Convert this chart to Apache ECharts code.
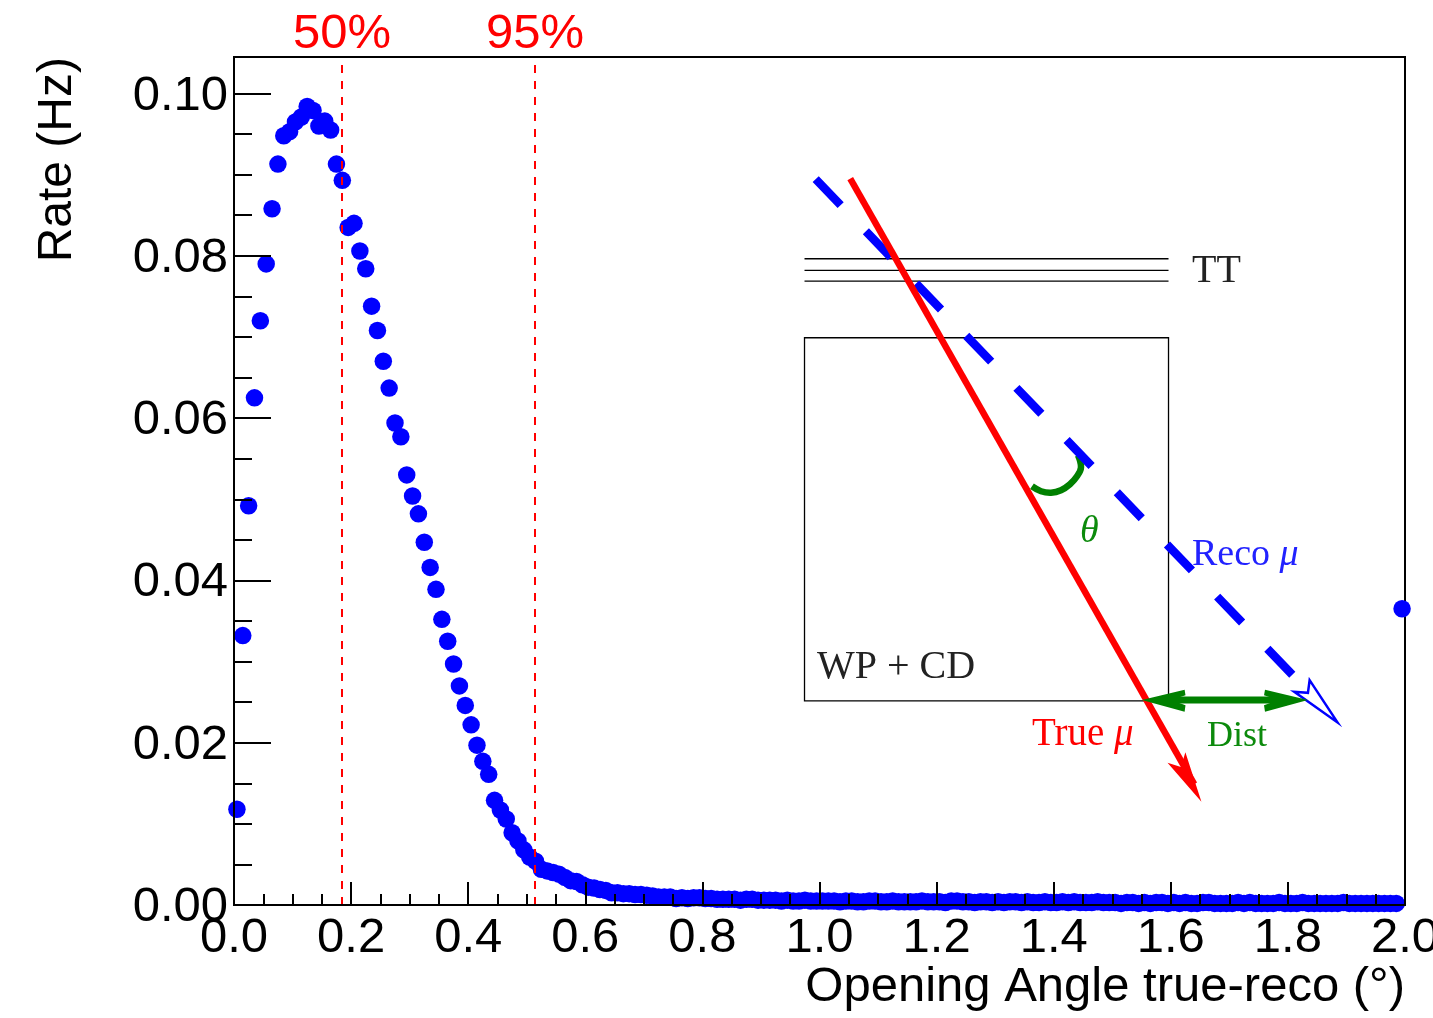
<!DOCTYPE html>
<html><head><meta charset="utf-8">
<style>html,body{margin:0;padding:0;background:#fff;overflow:hidden}#c{width:1433px;height:1018px}</style>
<script src="https://cdn.jsdelivr.net/npm/echarts@6/dist/echarts.min.js"></script>
</head><body><div id="c"></div>
<script>
// Bin centres step by 0.01 deg; one rate per bin (Hz)
const rates = [
.0118,.0332,.0492,.0625,.0720,.0790,.0858,.0913,.0948,.0953,
.0965,.0971,.0984,.0979,.0960,.0966,.0955,.0913,.0893,.0835,
.0840,.0806,.0784,.0738,.0708,.0670,.0637,.0594,.0577,.0530,
.0504,.0482,.0447,.0416,.0389,.0352,.0325,.0297,.0270,.0246,
.0222,.0197,.0177,.0161,.0129,.0117,.0106,.0089,.0079,.0068,
.0059,.0054,.0044,.0042,.0040,.0038,.0034,.0030,.0029,.0025,
.0022,.0021,.0019,.0018,.0015,.0015,.0014,.0014,.0013,.0013,
.0012,.0011,.0010,.0010,.0010,.0008,.0009,.0008,.0009,.0009,
.0008,.0008,.0007,.0007,.0007,.0007,.0006,.0007,.0007,.0006,
.0006,.0006,.0006,.0005,.0006,.0005,.0005,.0006,.0005,.0005,
.0005,.0005,.0005,.0004,.0005,.0005,.0004,.0004,.0005,.0005,
.0004,.0004,.0005,.0004,.0004,.0004,.0004,.0005,.0004,.0004,
.0004,.0003,.0005,.0005,.0004,.0004,.0003,.0004,.0004,.0003,
.0004,.0003,.0004,.0004,.0003,.0004,.0003,.0003,.0004,.0003,
.0003,.0004,.0003,.0004,.0003,.0003,.0003,.0004,.0003,.0003,
.0003,.0002,.0003,.0003,.0002,.0003,.0002,.0003,.0003,.0002,
.0003,.0002,.0003,.0002,.0002,.0003,.0003,.0002,.0002,.0002,
.0002,.0003,.0002,.0003,.0002,.0002,.0002,.0002,.0003,.0002,
.0002,.0002,.0003,.0002,.0002,.0002,.0002,.0002,.0002,.0003,
.0002,.0002,.0002,.0002,.0002,.0002,.0002,.0002,.0002,.0365];
const binCentres = rates.map((_, i) => +(0.005 + 0.01 * i).toFixed(3));
const points = rates.map((r, i) => [binCentres[i], r]);

const yMajorTicks = [0, 0.02, 0.04, 0.06, 0.08, 0.10];
const yMinorTicks = [0.005,0.01,0.015,0.025,0.03,0.035,0.045,0.05,0.055,0.065,0.07,0.075,0.085,0.09,0.095];
const containment = [0.1845, 0.514];
const containmentLabels = ['50%', '95%'];

// Detector sketch, in axis units
const ttPlanes = [0.07964, 0.07820, 0.07688];
const ttSpan = [0.9744, 1.5961];
const wpCdBox = [[0.9744,0.06990],[1.5961,0.06990],[1.5961,0.02515],[0.9744,0.02515]];
const trueMuLine = [[1.0525,0.08950],[1.6400,0.01490]];
const trueMuHead = [[1.6523,0.01272],[1.5944,0.01752],[1.6174,0.01700],[1.6249,0.01881]];
const recoMuLine = [[0.9935,0.08945],[1.8109,0.02812]];
const recoMuHead = [[1.8847,0.02250],[1.8371,0.02771],[1.8342,0.02615],[1.8109,0.02627]];
const thetaArc = [[1.3629,0.05160],[1.3783,0.05099],[1.3954,0.05080],[1.4125,0.05111],[1.4278,0.05185],[1.4398,0.05283],[1.4466,0.05394],[1.4415,0.05542]];
const distLine = [[1.6000,0.02525],[1.7800,0.02525]];
const distHeadL = [[1.5505,0.02525],[1.6236,0.02654],[1.6251,0.02586],[1.6123,0.02555],[1.6123,0.02494],[1.6251,0.02463],[1.6236,0.02381]];
const distHeadR = [[1.8342,0.02525],[1.7609,0.02654],[1.7592,0.02586],[1.7720,0.02555],[1.7720,0.02494],[1.7592,0.02463],[1.7609,0.02381]];
const sketchLabels = [
  {at:[1.6362,0.07562], text:'TT', fill:'#222', size:40},
  {at:[0.9957,0.02686], text:'WP + CD', fill:'#222', size:40},
  {at:[1.3629,0.01860], text:'True {m|μ}', fill:'#ff0000', size:39},
  {at:[1.6362,0.04081], text:'Reco {m|μ}', fill:'#2222ff', size:38},
  {at:[1.6618,0.01860], text:'Dist', fill:'#0c8a0c', size:36},
  {at:[1.4449,0.04364], text:'{m|θ}', fill:'#0c8a0c', size:38}
];

const BLACK = '#000', BLUE = '#0000ff', RED = '#ff0000', GREEN = '#008000';
const SANS = '"Liberation Sans", Arial, sans-serif';
const SERIF = '"Liberation Serif", "Times New Roman", serif';

function renderSketch(params, api) {
  const c = a => a.map(p => api.coord(p));
  const poly = (pts, style, type) => ({type: type || 'polyline', shape: {points: c(pts)}, style});
  const stroke = (s, w, extra) => Object.assign({stroke: s, lineWidth: w, fill: null}, extra);
  const kids = [];
  kids.push(poly(wpCdBox, stroke(BLACK, 1.3), 'polygon'));
  ttPlanes.forEach(y => kids.push(poly([[ttSpan[0], y], [ttSpan[1], y]], stroke(BLACK, 1.3))));
  const arc = poly(thetaArc, stroke(GREEN, 6.5));
  arc.shape.smooth = 0.4;
  kids.push(arc);
  kids.push(poly(recoMuLine, stroke(BLUE, 8.5, {lineDash: [36, 36.4]})));
  kids.push(poly(recoMuHead, {stroke: BLUE, lineWidth: 2.5, fill: '#fff'}, 'polygon'));
  kids.push(poly(trueMuLine, stroke(RED, 6.5)));
  kids.push(poly(trueMuHead, {fill: RED}, 'polygon'));
  kids.push(poly(distLine, stroke(GREEN, 7)));
  kids.push(poly(distHeadL, {fill: GREEN}, 'polygon'));
  kids.push(poly(distHeadR, {fill: GREEN}, 'polygon'));
  sketchLabels.forEach(l => {
    const p = api.coord(l.at);
    kids.push({type: 'text', x: p[0], y: p[1], style: {
      text: l.text, fill: l.fill, font: l.size + 'px ' + SERIF, align: 'left', verticalAlign: 'bottom',
      rich: {m: {fontStyle: 'italic', fontFamily: SERIF, fontSize: l.size, fill: l.fill}}
    }});
  });
  return {type: 'group', children: kids};
}

const chart = echarts.init(document.getElementById('c'), null, {renderer: 'canvas'});
chart.setOption({
  animation: false,
  backgroundColor: '#fff',
  grid: {left: 234, right: 28, top: 57, bottom: 113, outerBoundsMode: 'none', show: true, borderColor: BLACK, borderWidth: 2, backgroundColor: 'transparent'},
  xAxis: {
    type: 'value', min: 0, max: 2, interval: 0.2, z: 10,
    splitLine: {show: false},
    axisLine: {onZero: false, lineStyle: {color: BLACK, width: 2}},
    axisTick: {inside: true, length: 23, lineStyle: {color: BLACK, width: 2}},
    minorTick: {show: true, splitNumber: 4, length: 11, lineStyle: {color: BLACK, width: 2}},
    axisLabel: {color: BLACK, fontFamily: SANS, fontSize: 49, margin: 9, formatter: v => v.toFixed(1)},
    name: 'Opening Angle true-reco (°)', nameLocation: 'end', nameGap: 0, nameMoveOverlap: false,
    nameTextStyle: {color: BLACK, fontFamily: SANS, fontSize: 49, align: 'right', verticalAlign: 'top', padding: [58, 0, 0, 0]}
  },
  yAxis: [{
    type: 'value', min: 0, max: 0.1045, z: 10,
    splitLine: {show: false},
    axisLine: {onZero: false, lineStyle: {color: BLACK, width: 2}},
    axisTick: {inside: true, length: 37, customValues: yMajorTicks, lineStyle: {color: BLACK, width: 2}},
    axisLabel: {margin: 6, customValues: yMajorTicks, formatter: v => '{v|' + v.toFixed(2) + '}',
      rich: {v: {color: BLACK, fontFamily: SANS, fontSize: 49, padding: [5, 0, 0, 0]}}},
    name: 'Rate (Hz)', nameLocation: 'end', nameRotate: 90, nameGap: 0, nameMoveOverlap: false,
    nameTextStyle: {color: BLACK, fontFamily: SANS, fontSize: 48, align: 'right', verticalAlign: 'bottom', padding: [0, 0, 152, 0]}
  }, {
    type: 'value', min: 0, max: 0.1045, position: 'left', offset: 0, z: 10,
    splitLine: {show: false},
    axisLine: {show: false, onZero: false},
    axisTick: {inside: true, length: 18, customValues: yMinorTicks, lineStyle: {color: BLACK, width: 2}},
    axisLabel: {show: false}
  }],
  series: [{
    type: 'custom', name: 'Sketch', coordinateSystem: 'cartesian2d', clip: false, silent: true, z: 1,
    data: [[1, 0.05]], renderItem: renderSketch
  }, {
    type: 'scatter', name: 'Rate', data: points, symbol: 'circle', symbolSize: 17.5, clip: false, z: 3,
    itemStyle: {color: BLUE, opacity: 1},
    markLine: {
      silent: true, symbol: ['none', 'none'], animation: false, precision: 4,
      lineStyle: {color: RED, width: 2, type: [8, 8]},
      label: {show: true, position: 'end', color: RED, fontFamily: SANS, fontSize: 49, distance: -2},
      data: containment.map((x, i) => ({xAxis: x, label: {formatter: containmentLabels[i]}}))
    }
  }]
});
</script></body></html>
